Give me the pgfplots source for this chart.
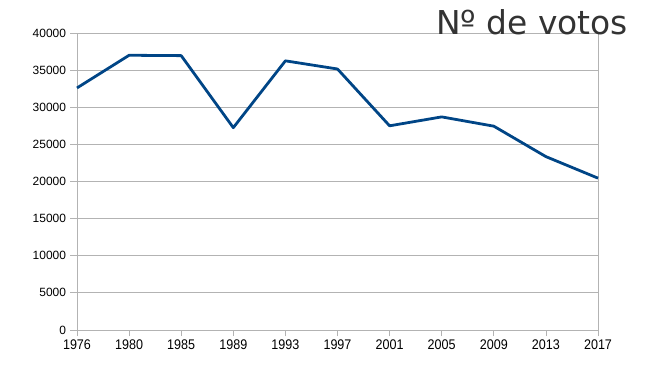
\documentclass[border=0pt]{standalone}
\usepackage{pgfplots}
\pgfplotsset{compat=1.18}
\usepackage{fontspec}
\setmainfont{Liberation Sans}
\newfontfamily\titlefont{DejaVu Sans}
\definecolor{lineblue}{HTML}{004586}
\definecolor{gridgray}{HTML}{B3B3B3}
\definecolor{txt}{HTML}{333333}
\newcommand{\nx}[1]{\scalebox{0.9}[1]{#1}}
\begin{document}
\begin{tikzpicture}
\begin{axis}[
  scale only axis,
  width=521bp, height=297bp,
  xmin=0, xmax=10,
  ymin=0, ymax=40000,
  xtick={0,1,2,3,4,5,6,7,8,9,10},
  xticklabels={\nx{1976},\nx{1980},\nx{1985},\nx{1989},\nx{1993},\nx{1997},\nx{2001},\nx{2005},\nx{2009},\nx{2013},\nx{2017}},
  ytick={0,5000,10000,15000,20000,25000,30000,35000,40000},
  /pgf/number format/assume math mode=true,
  scaled y ticks=false,
  yticklabel style={/pgf/number format/fixed,/pgf/number format/1000 sep={},font=\fontsize{12}{14}\selectfont,text=black,xshift=-1bp},
  xticklabel style={font=\fontsize{14}{16}\selectfont,text=black},
  tick align=outside,
  tick pos=left,
  major tick length=6.5bp,
  tick style={gridgray, line width=0.8pt},
  ymajorgrids,
  grid style={gridgray, line width=0.8pt},
  axis line style={gridgray, line width=0.8pt},
  clip=false,
]
\addplot[lineblue, line width=2.8pt, line join=round] coordinates {
  (0,32600) (1,37000) (2,36950) (3,27250) (4,36250) (5,35150)
  (6,27500) (7,28700) (8,27450) (9,23350) (10,20450)
};
\end{axis}
\node[anchor=base east, inner sep=0pt, text=txt, font=\titlefont\fontsize{33}{36}\selectfont] at ([shift={(30bp,-2bp)}]current axis.north east) {Nº de votos};
\path ([shift={(-77bp,-50bp)}]current axis.south west) rectangle ([shift={(47bp,33bp)}]current axis.north east);
\end{tikzpicture}
\end{document}
